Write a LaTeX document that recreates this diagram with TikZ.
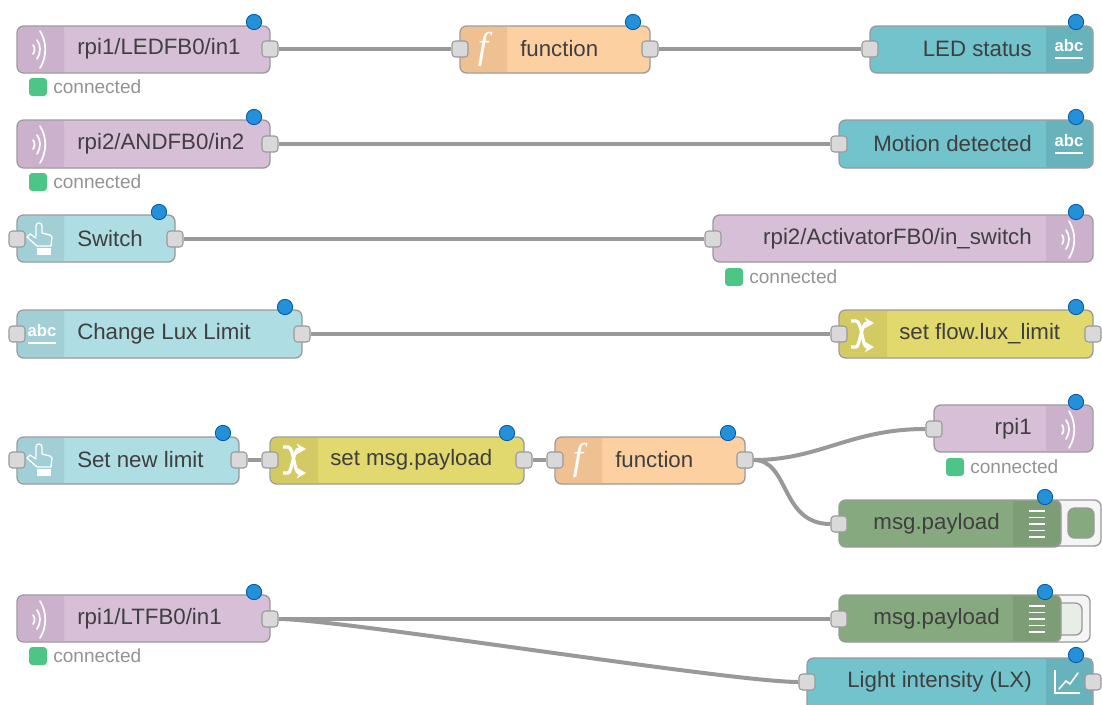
\documentclass[tikz,border=0pt]{standalone}
\usepackage{fontspec}
\setmainfont{Liberation Sans}
\newfontfamily\fnfont{Liberation Serif}
\usetikzlibrary{fit,arrows.meta}
\definecolor{mqtt}{HTML}{D8BFD8}
\definecolor{mqttdark}{HTML}{CBB1CB}
\definecolor{func}{HTML}{FDD0A2}
\definecolor{funcdark}{HTML}{EFC192}
\definecolor{uiout}{HTML}{72C3CB}
\definecolor{uioutdark}{HTML}{68B3BB}
\definecolor{uiin}{HTML}{AEDDE3}
\definecolor{uiindark}{HTML}{A1CFD5}
\definecolor{change}{HTML}{E2D96E}
\definecolor{changedark}{HTML}{D3CA64}
\definecolor{debug}{HTML}{87A980}
\definecolor{debugdark}{HTML}{7D9D77}
\definecolor{edge}{HTML}{999999}
\definecolor{wirec}{HTML}{999999}
\definecolor{ink}{HTML}{3F3F3F}
\tikzset{
  body/.style={draw=edge, line width=1pt, rounded corners=5pt, inner sep=0pt},
  port/.style={draw=edge, fill=gray!30, line width=.8pt, rounded corners=2.5pt, minimum size=12pt, inner sep=0pt},
  dot/.style={circle, draw=blue!30!teal, fill=cyan!70!blue!90, line width=.6pt, minimum size=11.5pt, inner sep=0pt},
  lab/.style={text=ink, inner sep=0pt, font=\fontsize{16.7}{20}\selectfont},
  labl/.style={lab, anchor=west},
  labr/.style={lab, anchor=east},
  stat/.style={fill=green!35!teal!70!white, rounded corners=2.5pt, minimum size=13.5pt, inner sep=0pt},
  stattext/.style={text=gray!85, anchor=west, inner sep=0pt, font=\fontsize{14.3}{17}\selectfont},
  wire/.style={draw=wirec, line width=3pt},
  icon/.style={draw=white, line width=1.3pt, line cap=round},
  abc/.style={text=white, inner sep=0pt, font=\fontsize{12.5}{14}\selectfont\bfseries},
  fn/.style={text=white, inner sep=0pt, font=\fontsize{28}{30}\selectfont\fnfont\itshape},
  waves/.pic={
    \draw[icon] (-7,-4) .. controls (-5,-2) and (-5,3) .. (-7,5);
    \draw[icon] (-3,-9) .. controls (1,-4) and (1,4) .. (-3,10);
    \draw[icon] (0,-18) .. controls (7,-7) and (7,8) .. (0,19);
  },
  hand/.pic={
    \draw[icon, line width=1pt, line join=round] (-4,-3) -- (-4,-13) .. controls (-4,-17) and (2,-17) .. (2,-13) -- (2,-6) -- (10,-4) -- (12,-2) -- (11,7) -- (-3,7) -- (-13,-2) -- (-10,-5) -- (-4,-1);
    \fill[white] (-3,9) rectangle (11,16);
  },
  abcline/.pic={
    \draw[icon, line cap=butt] (-12,9) -- (16,9);
  },
  shuffle/.pic={
    \draw[icon, line width=2.4pt, line cap=butt, -{Stealth[length=7pt,width=8pt]}] (-11,-13) -- (-6,-13) .. controls (0,-13) and (0,13) .. (5,13) -- (12,13);
    \draw[icon, line width=2.4pt, line cap=butt, -{Stealth[length=7pt,width=8pt]}] (-11,13) -- (-6,13) .. controls (-2,13) and (-1,-11) .. (5,-11) -- (12,-11);
  },
  lines/.pic={
    \draw[icon, line cap=butt] (-8,-13) -- (8,-13);
    \draw[icon, line cap=butt] (-8,-6.5) -- (8,-6.5);
    \draw[icon, line cap=butt] (-8,0) -- (8,0);
    \draw[icon, line cap=butt] (-8,6.5) -- (8,6.5);
    \draw[icon, line cap=butt] (-8,13) -- (8,13);
  },
  chart/.pic={
    \draw[icon, line width=1pt, line cap=butt] (-14,-12) -- (-14,11) -- (11,11);
    \draw[icon, line width=1.2pt] (-10,7) -- (-3,-1) -- (1,2) -- (9,-9);
  }
}
\begin{document}
\begin{tikzpicture}[x=.75pt,y=-.75pt]
\useasboundingbox (0,0) rectangle (1102,704);
\clip (0,0) rectangle (1102,704);

\node[body, fill=mqtt, fit={(17,26) (270,73)}] (ledfb) {};
\fill[mqttdark, rounded corners=4pt] (64,27) -- (18,27) -- (18,72) -- (64,72);
\pic at (40,49) {waves};
\node[labl] (ledfbtext) at (77,49) {rpi1/LEDFB0/in1};
\node[port] (ledfbout) at (270,49) {};
\node[dot] (ledfbdot) at (254,22) {};
\node[stat] (ledfbstat) at (38,87) {};
\node[stattext] (ledfbconn) at (53,87) {connected};

\node[body, fill=func, fit={(460,26) (650,73)}] (funca) {};
\fill[funcdark, rounded corners=4pt] (507,27) -- (461,27) -- (461,72) -- (507,72);
\node[fn] (funcaicon) at (483,49) {f};
\node[labl] (funcatext) at (520,49) {function};
\node[port] (funcain) at (460,49) {};
\node[port] (funcaout) at (650,49) {};
\node[dot] (funcadot) at (633,22) {};

\node[body, fill=uiout, fit={(870,26) (1093,73)}] (ledstat) {};
\fill[uioutdark, rounded corners=4pt] (1046,27) -- (1092,27) -- (1092,72) -- (1046,72);
\node[abc] (ledstaticon) at (1069,46) {abc};
\pic at (1067,49) {abcline};
\node[labr] (ledstattext) at (1032,49) {LED status};
\node[port] (ledstatin) at (870,49) {};
\node[dot] (ledstatdot) at (1076,22) {};

\node[body, fill=mqtt, fit={(17,120) (270,168)}] (andfb) {};
\fill[mqttdark, rounded corners=4pt] (64,121) -- (18,121) -- (18,167) -- (64,167);
\pic at (40,144) {waves};
\node[labl] (andfbtext) at (77,144) {rpi2/ANDFB0/in2};
\node[port] (andfbout) at (270,144) {};
\node[dot] (andfbdot) at (254,117) {};
\node[stat] (andfbstat) at (38,182) {};
\node[stattext] (andfbconn) at (53,182) {connected};

\node[body, fill=uiout, fit={(839,120) (1093,168)}] (motion) {};
\fill[uioutdark, rounded corners=4pt] (1046,121) -- (1092,121) -- (1092,167) -- (1046,167);
\node[abc] (motionicon) at (1069,141) {abc};
\pic at (1067,144) {abcline};
\node[labr] (motiontext) at (1032,144) {Motion detected};
\node[port] (motionin) at (839,144) {};
\node[dot] (motiondot) at (1076,117) {};

\node[body, fill=uiin, fit={(17,215) (175,262)}] (switch) {};
\fill[uiindark, rounded corners=4pt] (64,216) -- (18,216) -- (18,261) -- (64,261);
\pic at (40,239) {hand};
\node[labl] (switchtext) at (77,239) {Switch};
\node[port] (switchin) at (17,239) {};
\node[port] (switchout) at (175,239) {};
\node[dot] (switchdot) at (159,212) {};

\node[body, fill=mqtt, fit={(713,215) (1093,262)}] (activ) {};
\fill[mqttdark, rounded corners=4pt] (1046,216) -- (1092,216) -- (1092,261) -- (1046,261);
\pic at (1069,239) {waves};
\node[labr] (activtext) at (1032,239) {rpi2/ActivatorFB0/in\_switch};
\node[port] (activin) at (713,239) {};
\node[dot] (activdot) at (1076,212) {};
\node[stat] (activstat) at (734,277) {};
\node[stattext] (activconn) at (749,277) {connected};

\node[body, fill=uiin, fit={(17,310) (302,358)}] (luxin) {};
\fill[uiindark, rounded corners=4pt] (64,311) -- (18,311) -- (18,357) -- (64,357);
\node[abc] (luxinicon) at (42,331) {abc};
\pic at (40,334) {abcline};
\node[labl] (luxintext) at (77,334) {Change Lux Limit};
\node[port] (luxinin) at (17,334) {};
\node[port] (luxinout) at (302,334) {};
\node[dot] (luxindot) at (285,307) {};

\node[body, fill=change, fit={(839,310) (1093,358)}] (luxset) {};
\fill[changedark, rounded corners=4pt] (887,311) -- (840,311) -- (840,357) -- (887,357);
\pic at (862,334) {shuffle};
\node[labl] (luxsettext) at (899,334) {set flow.lux\_limit};
\node[port] (luxsetin) at (839,334) {};
\node[port] (luxsetout) at (1093,334) {};
\node[dot] (luxsetdot) at (1076,307) {};

\node[body, fill=uiin, fit={(17,437) (239,484)}] (limit) {};
\fill[uiindark, rounded corners=4pt] (64,438) -- (18,438) -- (18,483) -- (64,483);
\pic at (40,460) {hand};
\node[labl] (limittext) at (77,460) {Set new limit};
\node[port] (limitin) at (17,460) {};
\node[port] (limitout) at (239,460) {};
\node[dot] (limitdot) at (223,433) {};

\node[body, fill=change, fit={(270,437) (524,484)}] (setmsg) {};
\fill[changedark, rounded corners=4pt] (318,438) -- (271,438) -- (271,483) -- (318,483);
\pic at (294,460) {shuffle};
\node[labl] (setmsgtext) at (330,460) {set msg.payload};
\node[port] (setmsgin) at (270,460) {};
\node[port] (setmsgout) at (524,460) {};
\node[dot] (setmsgdot) at (507,433) {};

\node[body, fill=func, fit={(555,437) (745,484)}] (funcb) {};
\fill[funcdark, rounded corners=4pt] (602,438) -- (556,438) -- (556,483) -- (602,483);
\node[fn] (funcbicon) at (578,460) {f};
\node[labl] (funcbtext) at (615,460) {function};
\node[port] (funcbin) at (555,460) {};
\node[port] (funcbout) at (745,460) {};
\node[dot] (funcbdot) at (728,433) {};

\node[body, fill=mqtt, fit={(934,405) (1093,452)}] (rpi) {};
\fill[mqttdark, rounded corners=4pt] (1046,406) -- (1092,406) -- (1092,451) -- (1046,451);
\pic at (1069,429) {waves};
\node[labr] (rpitext) at (1032,429) {rpi1};
\node[port] (rpiin) at (934,429) {};
\node[dot] (rpidot) at (1076,402) {};
\node[stat] (rpistat) at (955,467) {};
\node[stattext] (rpiconn) at (970,467) {connected};

\node[body, draw=edge, fill=gray!8, fit={(1050,500) (1101,546)}] (btna) {};
\node[body, fill=debug, fit={(1068,508) (1094,538)}] (btnainner) {};
\node[body, fill=debug, fit={(839,500) (1061,547)}] (dbga) {};
\fill[debugdark, rounded corners=4pt] (1013,501) -- (1060,501) -- (1060,546) -- (1013,546);
\pic at (1037,524) {lines};
\node[labr] (dbgatext) at (1000,524) {msg.payload};
\node[port] (dbgain) at (839,524) {};
\node[dot] (dbgadot) at (1045,497) {};

\node[body, fill=mqtt, fit={(17,595) (270,642)}] (ltfb) {};
\fill[mqttdark, rounded corners=4pt] (64,596) -- (18,596) -- (18,641) -- (64,641);
\pic at (40,619) {waves};
\node[labl] (ltfbtext) at (77,619) {rpi1/LTFB0/in1};
\node[port] (ltfbout) at (270,619) {};
\node[dot] (ltfbdot) at (254,592) {};
\node[stat] (ltfbstat) at (38,656) {};
\node[stattext] (ltfbconn) at (53,656) {connected};

\node[body, fill=gray!8, fit={(1050,595) (1090,642)}] (btnb) {};
\node[body, fill=debug!20!white, fit={(1050,603) (1082,635)}] (btnbinner) {};
\node[body, fill=debug, fit={(839,595) (1061,642)}] (dbgb) {};
\fill[debugdark, rounded corners=4pt] (1013,596) -- (1060,596) -- (1060,641) -- (1013,641);
\pic at (1037,619) {lines};
\node[labr] (dbgbtext) at (1000,619) {msg.payload};
\node[port] (dbgbin) at (839,619) {};
\node[dot] (dbgbdot) at (1045,592) {};

\node[body, fill=uiout, fit={(807,658) (1093,712)}] (light) {};
\fill[uioutdark] (1046,659) -- (1092,659) -- (1092,711) -- (1046,711);
\pic at (1069,682) {chart};
\node[labr] (lighttext) at (1032,682) {Light intensity (LX)};
\node[port] (lightin) at (807,682) {};
\node[port] (lightout) at (1093,682) {};
\node[dot] (lightdot) at (1076,655) {};

\draw[wire] (ledfbout) -- (funcain);
\draw[wire] (funcaout) -- (ledstatin);
\draw[wire] (andfbout) -- (motionin);
\draw[wire] (switchout) -- (activin);
\draw[wire] (luxinout) -- (luxsetin);
\draw[wire] (limitout) -- (setmsgin);
\draw[wire] (setmsgout) -- (funcbin);
\draw[wire] (funcbout.east) .. controls (820,460) and (850,429) .. (rpiin.west);
\draw[wire] (funcbout.east) .. controls (790,460) and (780,524) .. (dbgain.west);
\draw[wire] (ltfbout) -- (dbgbin);
\draw[wire] (ltfbout.east) .. controls (340,619) and (730,682) .. (lightin.west);
\end{tikzpicture}
\end{document}
